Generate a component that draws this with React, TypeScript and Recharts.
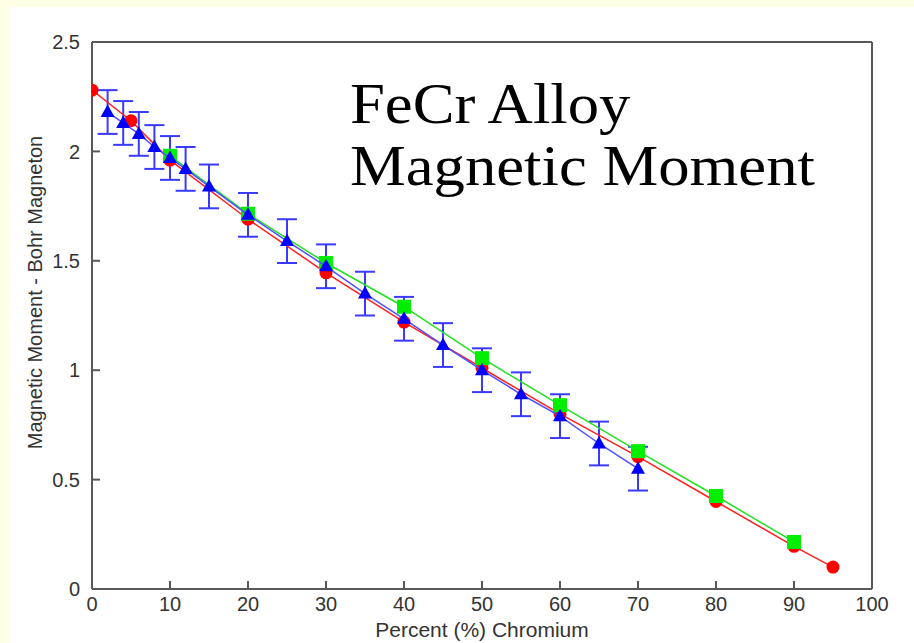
import React from 'react';
import { ScatterChart, Scatter, XAxis, YAxis, ErrorBar } from 'recharts';

// Chromium content (%) and moment (Bohr magnetons) for each data set
const redX = [0, 5, 10, 20, 30, 40, 50, 60, 70, 80, 90, 95];
const redY = [2.28, 2.14, 1.96, 1.69, 1.445, 1.22, 1.01, 0.8, 0.605, 0.4, 0.195, 0.1];

const greenX = [10, 20, 30, 40, 50, 60, 70, 80, 90];
const greenY = [1.98, 1.715, 1.49, 1.29, 1.055, 0.84, 0.63, 0.425, 0.215];

const blueX = [2, 4, 6, 8, 10, 12, 15, 20, 25, 30, 35, 40, 45, 50, 55, 60, 65, 70];
const blueY = [2.18, 2.13, 2.08, 2.02, 1.97, 1.92, 1.84, 1.71, 1.59, 1.475, 1.35, 1.235, 1.115, 1.0, 0.89, 0.79, 0.665, 0.55];
const blueErr = [0.1, 0.1, 0.1, 0.1, 0.1, 0.1, 0.1, 0.1, 0.1, 0.1, 0.1, 0.1, 0.1, 0.1, 0.1, 0.1, 0.1, 0.1];

const xTicks = [0, 10, 20, 30, 40, 50, 60, 70, 80, 90, 100];
const yTicks = [0, 0.5, 1, 1.5, 2, 2.5];

const redData = redX.map((x, i) => ({ x, y: redY[i] }));
const greenData = greenX.map((x, i) => ({ x, y: greenY[i] }));
const blueData = blueX.map((x, i) => ({ x, y: blueY[i], err: blueErr[i] }));

const AXIS = '#585858';
const SANS = 'Liberation Sans, Arial, sans-serif';
const TICK_TEXT = { fill: '#333333', fontSize: 20, fontFamily: SANS };

const Dot = (props: any) => <circle cx={props.cx} cy={props.cy} r={6.5} fill="#ff0000" />;
const Square = (props: any) => (
  <rect x={props.cx - 7} y={props.cy - 7} width={14} height={14} fill="#00ee00" />
);
const Triangle = (props: any) => {
  const { cx, cy } = props;
  return <polygon points={`${cx},${cy - 7.5} ${cx - 7},${cy + 5} ${cx + 7},${cy + 5}`} fill="#0000ff" />;
};

export default function App() {
  return (
    <div style={{ position: 'absolute', left: 0, top: 0, width: 914, height: 643, background: '#ffffe6', overflow: 'hidden' }}>
      <div style={{ position: 'absolute', left: 9, top: 7, width: 905, height: 636, background: '#ffffff' }} />
      <div style={{ position: 'absolute', left: 0, top: 0 }}>
        <ScatterChart width={914} height={643} margin={{ top: 0, right: 0, bottom: 0, left: 0 }}>
          <XAxis
            dataKey="x"
            type="number"
            domain={[0, 100]}
            ticks={xTicks}
            allowDataOverflow
            height={54}
            stroke={AXIS}
            strokeWidth={2}
            tickSize={-8}
            tickMargin={16}
            tick={TICK_TEXT}
            label={{
              value: 'Percent (%) Chromium',
              position: 'center',
              dy: 14,
              fill: '#333333',
              fontSize: 21,
              fontFamily: SANS,
            }}
          />
          <XAxis
            xAxisId="top"
            orientation="top"
            type="number"
            domain={[0, 100]}
            ticks={xTicks}
            allowDataOverflow
            height={42}
            stroke={AXIS}
            strokeWidth={2}
            tickSize={-8}
            tick={false}
          />
          <YAxis
            dataKey="y"
            type="number"
            domain={[0, 2.5]}
            ticks={yTicks}
            allowDataOverflow
            width={92}
            stroke={AXIS}
            strokeWidth={2}
            tickSize={-8}
            tickMargin={20}
            tick={TICK_TEXT}
            label={{
              value: 'Magnetic Moment  -  Bohr Magneton',
              angle: -90,
              position: 'center',
              dx: -11,
              dy: -23,
              fill: '#333333',
              fontSize: 20,
              fontFamily: SANS,
            }}
          />
          <YAxis
            yAxisId="right"
            orientation="right"
            type="number"
            domain={[0, 2.5]}
            ticks={yTicks}
            allowDataOverflow
            width={42}
            stroke={AXIS}
            strokeWidth={2}
            tickSize={-8}
            tick={false}
          />
          <Scatter
            data={redData}
            line={{ stroke: '#ff2020', strokeWidth: 1.5 }}
            lineType="joint"
            shape={Dot}
            isAnimationActive={false}
          />
          <Scatter
            data={greenData}
            line={{ stroke: '#22e022', strokeWidth: 1.5 }}
            lineType="joint"
            shape={Square}
            isAnimationActive={false}
          />
          <Scatter
            data={blueData}
            line={{ stroke: '#5050ff', strokeWidth: 1.5 }}
            lineType="joint"
            shape={Triangle}
            isAnimationActive={false}
          >
            <ErrorBar dataKey="err" direction="y" width={10} stroke="#3a3aff" strokeWidth={2} isAnimationActive={false} />
          </Scatter>
        </ScatterChart>
      </div>
      <div
        style={{
          position: 'absolute',
          left: 350,
          top: 73,
          fontFamily: 'Liberation Serif, Times New Roman, serif',
          fontSize: 57,
          lineHeight: '62px',
          color: '#000000',
          whiteSpace: 'nowrap',
          transform: 'scaleX(1.1)',
          transformOrigin: 'left top',
        }}
      >
        <div>FeCr Alloy</div>
        <div>Magnetic Moment</div>
      </div>
    </div>
  );
}
